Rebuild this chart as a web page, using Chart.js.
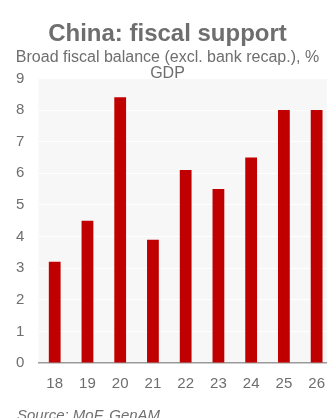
<!DOCTYPE html>
<html>
<head>
<meta charset="utf-8">
<script src="https://cdn.jsdelivr.net/npm/chart.js@4"></script>
<style>
  html, body { margin: 0; padding: 0; background: #fff; overflow: hidden; }
  #wrap { position: relative; width: 334px; height: 418px; }
  #source {
    position: absolute; left: 17px; top: 406px;
    font: italic 15px "Liberation Sans", Arial, sans-serif; color: #707070;
  }
</style>
</head>
<body>
<div id="wrap">
  <canvas id="fiscal-chart" width="334" height="418"></canvas>
  <div id="source">Source: MoF, GenAM</div>
</div>
<script>
// values
const years = ['18', '19', '20', '21', '22', '23', '24', '25', '26'];
const fiscalBalance = [3.2, 4.5, 8.4, 3.9, 6.1, 5.5, 6.5, 8.0, 8.0];
const yTicks = [0, 1, 2, 3, 4, 5, 6, 7, 8, 9];

const textGrey = '#6e6e6e';

// light grey plot background
const plotBackground = {
  id: 'plotBackground',
  beforeDraw(chart) {
    const { ctx, chartArea: a } = chart;
    ctx.save();
    ctx.fillStyle = '#f7f7f7';
    ctx.fillRect(a.left, a.top, a.right - a.left, a.bottom - a.top);
    ctx.restore();
  }
};

const ctx = document.getElementById('fiscal-chart').getContext('2d');
new Chart(ctx, {
  type: 'bar',
  data: {
    labels: years,
    datasets: [{
      label: 'Broad fiscal balance',
      data: fiscalBalance,
      backgroundColor: '#c00000',
      barPercentage: 0.36,
      categoryPercentage: 1,
    }],
  },
  plugins: [plotBackground],
  options: {
    responsive: false,
    animation: false,
    layout: { padding: { left: 2, right: 1, top: 0, bottom: 21 } },
    plugins: {
      legend: { display: false },
      tooltip: { enabled: false },
      title: {
        display: true,
        text: 'China: fiscal support',
        color: textGrey,
        font: { family: 'Liberation Sans', size: 24, weight: 'bold' },
        padding: { top: 20, bottom: 0 },
      },
      subtitle: {
        display: true,
        text: ['Broad fiscal balance (excl. bank recap.), %', 'GDP'],
        color: textGrey,
        font: { family: 'Liberation Sans', size: 16, lineHeight: 1.05 },
        padding: { top: 0, bottom: -4 },
      },
    },
    scales: {
      x: {
        grid: { display: false },
        border: { display: true, color: '#9a9a9a', width: 1.5 },
        ticks: {
          color: textGrey,
          font: { family: 'Liberation Sans', size: 15 },
          padding: 4,
          maxRotation: 0,
        },
      },
      y: {
        min: 0,
        max: 9,
        afterBuildTicks: axis => { axis.ticks = yTicks.map(v => ({ value: v })); },
        grid: { color: '#ffffff', lineWidth: 1, drawTicks: false },
        border: { display: false },
        ticks: {
          color: textGrey,
          font: { family: 'Liberation Sans', size: 15 },
          padding: 14,
        },
      },
    },
  },
});
</script>
</body>
</html>
